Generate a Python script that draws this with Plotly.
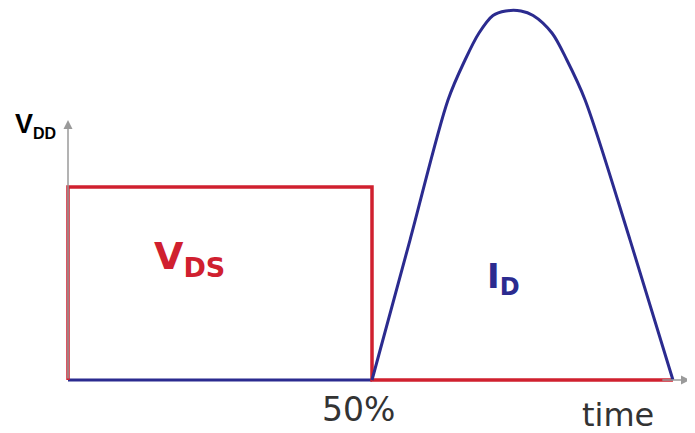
import plotly.graph_objects as go

# Normalised time axis: 0 = switch-on, 1 = 50% point, 2 = end of cycle
vds_t = [0.0, 0.0, 1.0, 1.0, 1.99]
vds_v = [0.0, 1.0, 1.0, 0.0, 0.0]

id_base_t = [0.0, 1.0]
id_base_v = [0.0, 0.0]

id_t = [1.0, 1.125, 1.25, 1.306, 1.352, 1.398, 1.44, 1.49,
        1.530, 1.592, 1.641, 1.701, 1.849, 1.990]
id_v = [0.0, 0.725, 1.451, 1.658, 1.798, 1.889, 1.912, 1.912,
        1.889, 1.798, 1.658, 1.451, 0.725, 0.0]

vdd_level = 1.347     # top of vertical axis arrow
time_end = 2.046      # tip of time axis arrow

RED = "#d0202f"
BLUE = "#2b2b8f"
GRAY = "#9a9a9a"

fig = go.Figure()

fig.add_trace(go.Scatter(x=id_base_t, y=id_base_v, mode="lines",
                         line=dict(color=BLUE, width=3), hoverinfo="skip"))
fig.add_trace(go.Scatter(x=vds_t, y=vds_v, mode="lines",
                         line=dict(color=RED, width=3.5), hoverinfo="skip"))
fig.add_trace(go.Scatter(x=id_t, y=id_v, mode="lines",
                         line=dict(color=BLUE, width=3, shape="spline", smoothing=0.9),
                         hoverinfo="skip"))

# axis arrows
fig.add_annotation(x=0, y=vdd_level, ax=0, ay=0, xref="x", yref="y", axref="x", ayref="y",
                   text="", showarrow=True, arrowhead=2, arrowsize=1.2, arrowwidth=1.5,
                   arrowcolor=GRAY)
fig.add_annotation(x=time_end, y=0, ax=1.95, ay=0, xref="x", yref="y", axref="x", ayref="y",
                   text="", showarrow=True, arrowhead=2, arrowsize=1.2, arrowwidth=1.5,
                   arrowcolor=GRAY)

# labels
fig.add_annotation(x=-0.181, y=1.321, xref="x", yref="y", xanchor="left", yanchor="middle",
                   showarrow=False,
                   text="<b>V<sub><span style='font-size:16px'>DD</span></sub></b>",
                   font=dict(family="Liberation Sans", size=27, color="#000000"))
fig.add_annotation(x=0.276, y=0.632, xref="x", yref="y", xanchor="left", yanchor="middle",
                   showarrow=False,
                   text="<b>V<sub><span style='font-size:27px'>DS</span></sub></b>",
                   font=dict(family="DejaVu Sans", size=38, color=RED))
fig.add_annotation(x=1.372, y=0.528, xref="x", yref="y", xanchor="left", yanchor="middle",
                   showarrow=False,
                   text="<b>I<sub><span style='font-size:24px'>D</span></sub></b>",
                   font=dict(family="DejaVu Sans", size=34, color=BLUE))
fig.add_annotation(x=0.954, y=-0.155, xref="x", yref="y", xanchor="center", yanchor="middle",
                   showarrow=False, text="50%",
                   font=dict(family="DejaVu Sans", size=33, color="#333333"))
fig.add_annotation(x=1.809, y=-0.182, xref="x", yref="y", xanchor="center", yanchor="middle",
                   showarrow=False, text="time",
                   font=dict(family="DejaVu Sans", size=32, color="#333333"))

# The page body has an 8px margin, so the figure is 8px smaller and its
# ranges start 8px in from the window's top-left corner.
fig.update_layout(
    width=687, height=425, autosize=False,
    margin=dict(l=0, r=0, t=0, b=0),
    paper_bgcolor="white", plot_bgcolor="white",
    showlegend=False,
    xaxis=dict(range=[-60 / 304, 627 / 304], visible=False, fixedrange=True),
    yaxis=dict(range=[-53 / 193, 372 / 193], visible=False, fixedrange=True),
)

fig.write_html("out.html")
